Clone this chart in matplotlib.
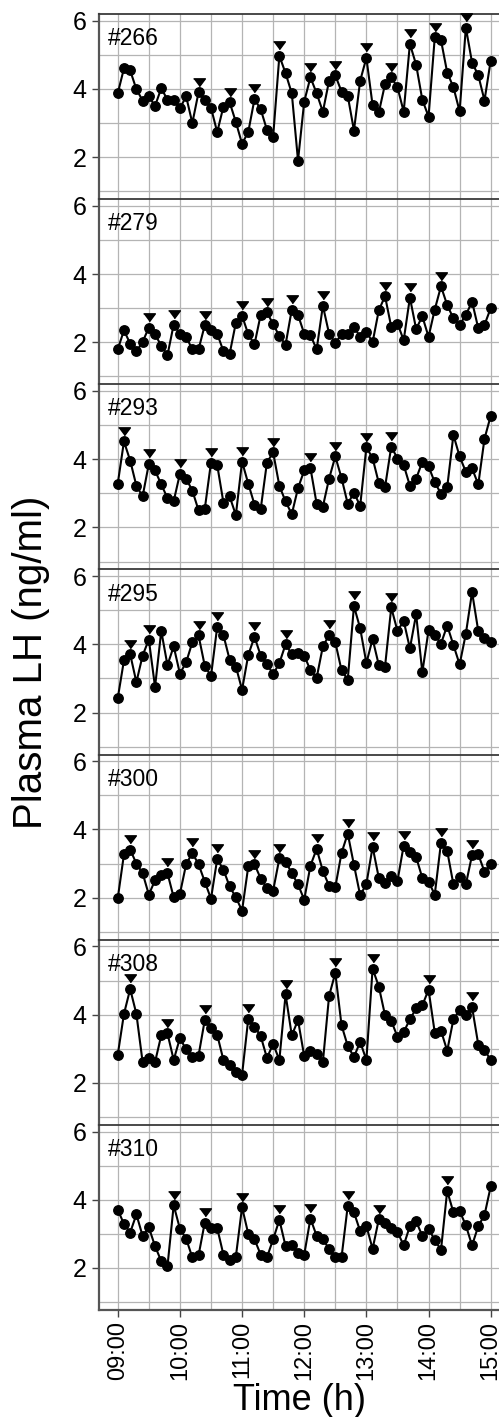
import numpy as np
import matplotlib
matplotlib.use("Agg")
import matplotlib.pyplot as plt
from matplotlib.transforms import offset_copy
from matplotlib.ticker import FixedLocator

plt.rcParams['font.family'] = ['Liberation Sans', 'DejaVu Sans']

# ---- data ----
animal_ids = ["#266", "#279", "#293", "#295", "#300", "#308", "#310"]
sample_interval_min = 6
n_samples = 61
hour_labels = ["09:00", "10:00", "11:00", "12:00", "13:00", "14:00", "15:00"]

lh_266 = [3.87, 4.60, 4.54, 3.99, 3.66, 3.78, 3.50, 4.02, 3.68, 3.68, 3.43, 3.78, 3.00, 3.90, 3.68, 3.45,
          2.73, 3.48, 3.61, 3.03, 2.39, 2.74, 3.70, 3.40, 2.80, 2.60, 4.97, 4.46, 3.87, 1.90, 3.63, 4.34,
          3.87, 3.33, 4.24, 4.40, 3.92, 3.80, 2.78, 4.24, 4.91, 3.52, 3.31, 4.14, 4.34, 4.05, 3.33, 5.32,
          4.71, 3.68, 3.19, 5.51, 5.43, 4.48, 4.05, 3.34, 5.80, 4.77, 4.40, 3.66, 4.83]
lh_279 = [1.79, 2.35, 1.96, 1.73, 2.01, 2.43, 2.23, 1.90, 1.62, 2.52, 2.25, 2.16, 1.79, 1.79, 2.50, 2.37,
          2.25, 1.74, 1.66, 2.57, 2.78, 2.23, 1.94, 2.81, 2.88, 2.53, 2.18, 1.93, 2.96, 2.80, 2.25, 2.21,
          1.79, 3.07, 2.25, 1.98, 2.23, 2.23, 2.45, 2.16, 2.31, 2.00, 2.94, 3.35, 2.45, 2.55, 2.06, 3.31,
          2.39, 2.76, 2.16, 2.96, 3.64, 3.09, 2.70, 2.51, 2.80, 3.19, 2.41, 2.51, 3.00]
lh_293 = [3.28, 4.52, 3.96, 3.22, 2.91, 3.86, 3.67, 3.26, 2.86, 2.77, 3.57, 3.43, 3.08, 2.50, 2.54, 3.90,
          3.83, 2.73, 2.91, 2.36, 3.93, 3.28, 2.67, 2.54, 3.90, 4.20, 3.22, 2.76, 2.39, 3.15, 3.67, 3.74,
          2.69, 2.61, 3.43, 4.08, 3.45, 2.69, 3.02, 2.63, 4.35, 4.03, 3.30, 3.18, 4.37, 4.02, 3.83, 3.22,
          3.43, 3.92, 3.79, 3.32, 2.99, 3.18, 4.71, 4.08, 3.63, 3.73, 3.26, 4.60, 5.27]
lh_295 = [2.42, 3.53, 3.71, 2.89, 3.67, 4.14, 2.75, 4.39, 3.39, 3.94, 3.14, 3.47, 4.06, 4.26, 3.37, 3.07,
          4.51, 4.27, 3.55, 3.35, 2.67, 3.69, 4.22, 3.67, 3.43, 3.12, 3.45, 4.00, 3.71, 3.75, 3.67, 3.24,
          3.02, 3.94, 4.27, 4.06, 3.24, 2.96, 5.12, 4.47, 3.45, 4.16, 3.39, 3.35, 5.08, 4.39, 4.69, 3.88,
          4.88, 3.18, 4.41, 4.27, 4.02, 4.55, 3.98, 3.41, 4.31, 5.53, 4.39, 4.20, 4.08]
lh_300 = [1.98, 3.27, 3.41, 3.00, 2.72, 2.09, 2.51, 2.66, 2.72, 2.01, 2.11, 2.98, 3.31, 2.98, 2.47, 1.97,
          3.13, 2.82, 2.33, 2.01, 1.62, 2.92, 2.98, 2.56, 2.29, 2.21, 3.15, 3.06, 2.72, 2.39, 1.94, 2.94,
          3.43, 2.78, 2.35, 2.31, 3.31, 3.88, 2.96, 2.07, 2.40, 3.49, 2.58, 2.43, 2.64, 2.49, 3.53, 3.35,
          3.19, 2.58, 2.47, 2.09, 3.61, 3.37, 2.39, 2.60, 2.39, 3.25, 3.27, 2.76, 3.00]
lh_308 = [2.82, 4.02, 4.75, 4.02, 2.61, 2.73, 2.61, 3.39, 3.45, 2.67, 3.31, 2.98, 2.76, 2.80, 3.84, 3.61,
          3.41, 2.67, 2.53, 2.31, 2.24, 3.88, 3.65, 3.37, 2.73, 3.14, 2.67, 4.59, 3.39, 3.84, 2.78, 2.94,
          2.84, 2.61, 4.55, 5.22, 3.69, 3.08, 2.76, 3.20, 2.67, 5.35, 4.82, 3.98, 3.82, 3.35, 3.49, 3.86,
          4.18, 4.27, 4.73, 3.47, 3.53, 2.94, 3.86, 4.14, 4.00, 4.22, 3.12, 2.96, 2.67]
lh_310 = [3.71, 3.29, 3.04, 3.57, 2.94, 3.19, 2.64, 2.20, 2.05, 3.84, 3.15, 2.86, 2.31, 2.37, 3.33, 3.17,
          3.17, 2.39, 2.23, 2.33, 3.78, 3.00, 2.84, 2.39, 2.31, 2.84, 3.41, 2.64, 2.66, 2.45, 2.39, 3.45,
          2.94, 2.84, 2.56, 2.31, 2.31, 3.82, 3.63, 3.08, 3.23, 2.56, 3.43, 3.31, 3.17, 3.06, 2.66, 3.23,
          3.37, 2.94, 3.15, 2.82, 2.53, 4.26, 3.63, 3.67, 3.25, 2.66, 3.23, 3.55, 4.39]

peaks_266 = [13, 18, 22, 26, 31, 35, 40, 44, 47, 51, 56]
peaks_279 = [5, 9, 14, 20, 24, 28, 33, 43, 47, 52]
peaks_293 = [1, 5, 10, 15, 20, 25, 31, 35, 40, 44]
peaks_295 = [2, 5, 13, 16, 22, 27, 34, 38, 44]
peaks_300 = [2, 8, 12, 16, 22, 26, 32, 37, 41, 46, 52, 57]
peaks_308 = [2, 8, 14, 21, 27, 35, 41, 50, 57]
peaks_310 = [9, 14, 20, 26, 31, 37, 42, 53]

series = [lh_266, lh_279, lh_293, lh_295, lh_300, lh_308, lh_310]
peaks = [peaks_266, peaks_279, peaks_293, peaks_295, peaks_300, peaks_308, peaks_310]

# ---- figure ----
W, H = 499, 1417
fig = plt.figure(figsize=(W / 100, H / 100), dpi=100)
top_px, bot_px, left_px = 14, 1310, 99.3
axes = fig.subplots(7, 1, sharex=True, gridspec_kw=dict(hspace=0))
fig.subplots_adjust(left=left_px / W, right=1.0, top=1 - top_px / H, bottom=1 - bot_px / H)

minutes = np.arange(n_samples) * sample_interval_min
tri = [(-1, 0.62), (1, 0.62), (0, -0.72)]
grid_col = '#b4b4b4'
spine_col = '#3a3a3a'

for k, ax in enumerate(axes):
    vals = np.asarray(series[k])
    ax.set_axisbelow(True)
    ax.set_xlim(-17.8, 368.0)
    ax.set_ylim(0.768, 6.196)
    ax.yaxis.set_major_locator(FixedLocator([2, 4, 6]))
    ax.yaxis.set_minor_locator(FixedLocator([1, 3, 5]))
    ax.xaxis.set_major_locator(FixedLocator(np.arange(0, 361, 60)))
    ax.xaxis.set_minor_locator(FixedLocator(np.arange(30, 361, 60)))
    ax.grid(True, which='both', color=grid_col, linewidth=0.9)
    ax.tick_params(axis='both', which='major', direction='out', length=5, width=1,
                   color='#444444', labelsize=18, pad=4)
    ax.tick_params(axis='both', which='minor', length=0)
    ax.tick_params(axis='x', labelsize=17, pad=3)
    ax.spines['right'].set_visible(False)
    ax.spines['left'].set_color('#555555')
    ax.spines['left'].set_linewidth(1.6)
    ax.spines['top'].set_color(spine_col)
    ax.spines['top'].set_linewidth(1.3)
    if k < 6:
        ax.spines['bottom'].set_visible(False)
        ax.tick_params(axis='x', which='both', length=0)
    else:
        ax.spines['bottom'].set_color('#555555')
        ax.spines['bottom'].set_linewidth(1.6)

    ax.plot(minutes, vals, color='black', linewidth=1.5, marker='o', markersize=6.8,
            markerfacecolor='black', markeredgecolor='black', zorder=3)
    pk = np.asarray(peaks[k])
    tr = offset_copy(ax.transData, fig=fig, x=0, y=10.7, units='dots')
    ax.plot(minutes[pk], vals[pk], linestyle='none', marker=tri, markersize=8.5,
            color='black', transform=tr, clip_on=False, zorder=4)
    ax.annotate(animal_ids[k], xy=(0, 1), xycoords='axes fraction', xytext=(6.5, -9.5),
                textcoords='offset points', ha='left', va='top', fontsize=16.5)

axes[-1].set_xticklabels(hour_labels, rotation=90)
axes[-1].set_xlabel('Time (h)', fontsize=26, labelpad=2)

mid_y = 1 - (top_px + bot_px) / 2 / H
fig.text(31 / W, mid_y, 'Plasma LH (ng/ml)', rotation=90, ha='center', va='center', fontsize=29)

fig.savefig('out.png', dpi=100)
